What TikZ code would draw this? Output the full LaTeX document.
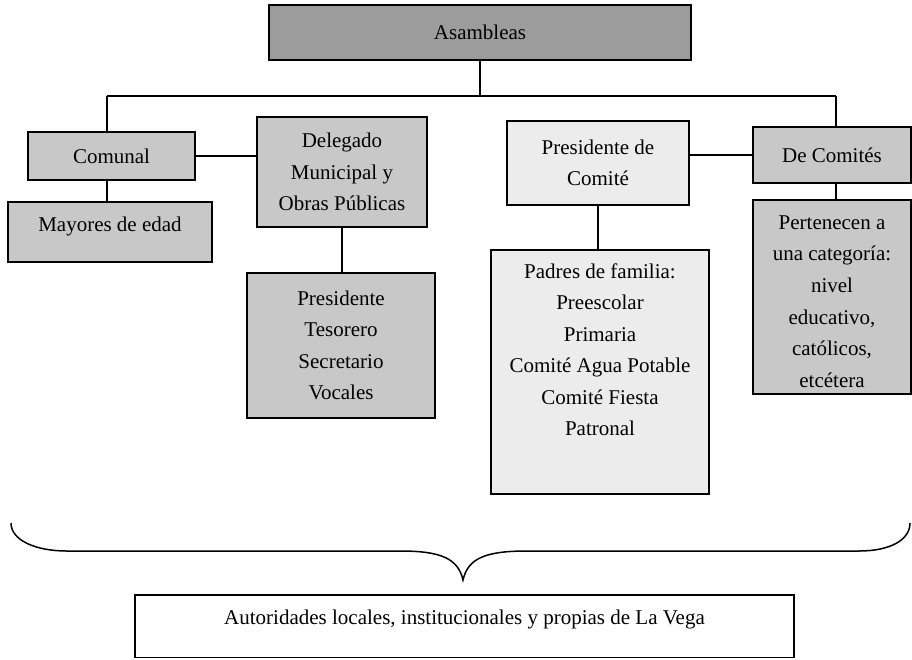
\documentclass[tikz,border=0pt]{standalone}
\usepackage{fontspec}
\setmainfont{Liberation Serif}
\definecolor{darkfill}{HTML}{9C9C9C}
\definecolor{midfill}{HTML}{C8C8C8}
\definecolor{lightfill}{HTML}{ECECEC}
\begin{document}
\begin{tikzpicture}[x=1pt,y=-1pt,
  font=\fontsize{21}{31.5}\selectfont,
  box/.style={draw=black, line width=1.6pt, inner sep=0pt, align=center},
  link/.style={draw=black, line width=1.4pt},
  bracestyle/.style={draw=black, line width=1.5pt}]
\useasboundingbox (0,0) rectangle (912,659);

\node[box, fill=darkfill, minimum width=422pt, minimum height=55pt] (asam) at (480,32.5) {Asambleas};

\node[box, fill=midfill, minimum width=167pt, minimum height=48pt] (comunal) at (111.5,156) {Comunal};
\node[box, fill=midfill] (mayores) at (110,232)
  {\parbox[c][60pt][t]{204pt}{\centering\rule{0pt}{29pt}Mayores de edad}};
\node[box, fill=midfill, minimum width=170pt, minimum height=110pt] (deleg) at (342,172)
  {Delegado\\Municipal y\\Obras Públicas};
\node[box, fill=midfill, minimum width=188pt, minimum height=145pt] (ofic) at (341,345.5)
  {Presidente\\Tesorero\\Secretario\\Vocales};

\node[box, fill=lightfill, minimum width=182pt, minimum height=84pt] (prescom) at (598,163)
  {Presidente de\\Comité};
\node[box, fill=lightfill] (padres) at (600,372)
  {\parbox[c][244pt][t]{218pt}{\centering\rule{0pt}{28pt}Padres de familia:\\Preescolar\\Primaria\\Comité Agua Potable\\Comité Fiesta\\Patronal}};

\node[box, fill=midfill, minimum width=158pt, minimum height=56pt] (comites) at (832,155) {De Comités};
\node[box, fill=midfill] (pert) at (832,297)
  {\parbox[c][194pt][t]{158pt}{\fontsize{21}{31.7}\selectfont\centering\rule{0pt}{29pt}Pertenecen a\\una categoría:\\nivel\\educativo,\\católicos,\\etcétera}};

\node[box, fill=white] (autor) at (464.5,626.25)
  {\parbox[c][62.5pt][t]{659pt}{\centering\rule{0pt}{29pt}Autoridades locales, institucionales y propias de La Vega}};

% connectors
\coordinate (busL) at (107,96);
\coordinate (busR) at (836,96);
\draw[link] (busL) -- (busR);
\draw[link] (asam.south) -- (asam.south |- busL);
\draw[link] (busL) -- (busL |- comunal.north);
\draw[link] (busL |- comunal.south) -- (busL |- mayores.north);
\draw[link] (comunal.east) -- (comunal.east -| deleg.west);
\draw[link] (deleg.south) -- (deleg.south |- ofic.north);
\draw[link] (comites.west) -- (comites.west -| prescom.east);
\draw[link] (prescom.south) -- (prescom.south |- padres.north);
\draw[link] (busR) -- (busR |- comites.north);
\draw[link] (busR |- comites.south) -- (busR |- pert.north);

% brace
\coordinate (braceL) at (11,523);
\coordinate (braceR) at (910,523);
\coordinate (braceTip) at (463,580);
\draw[bracestyle] (braceL) .. controls (11,540) and (35,551) .. (67,551) -- (400,551)
  .. controls (440,551) and (458,558) .. (braceTip)
  .. controls (468,558) and (486,551) .. (527,551) -- (859,551)
  .. controls (890,551) and (910,540) .. (braceR);
\end{tikzpicture}
\end{document}
